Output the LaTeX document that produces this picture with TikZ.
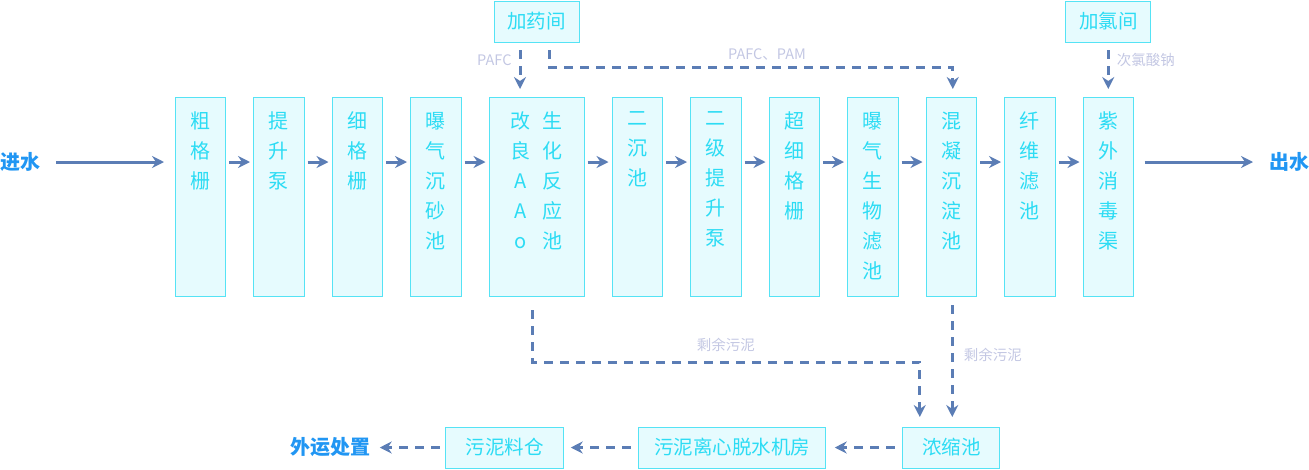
\documentclass[tikz,border=0pt]{standalone}
\usepackage{fontspec}
\newfontfamily\cjk{Noto Sans CJK SC}
\usepackage{xcolor}
\definecolor{wtLine}{HTML}{55E3F5}
\definecolor{wtFill}{HTML}{E6FBFE}
\definecolor{wtText}{HTML}{2CDCF4}
\definecolor{wtFlow}{HTML}{5B7DB5}
\definecolor{wtNote}{HTML}{C3C7E3}
\definecolor{wtEnd}{HTML}{2196F3}
\usepackage{tikz}
\usetikzlibrary{arrows.meta, positioning, calc}
\newcommand\vcol[2][40pt]{\parbox[c][199pt][t]{#1}{\centering\vspace*{15pt}#2}}

\begin{document}
\begin{tikzpicture}[x=1pt, y=-1pt,
        node distance=28pt,
        stage/.style={rectangle, draw=wtLine, fill=wtFill, line width=1pt, inner sep=0pt, outer sep=0pt, minimum width=50.5pt, minimum height=199pt, font=\cjk\fontsize{20}{30}\selectfont, text=wtText},
        room/.style={rectangle, draw=wtLine, fill=wtFill, line width=1pt, inner sep=0pt, outer sep=0pt, minimum height=41pt, font=\cjk\fontsize{19.5}{22}\selectfont, text=wtText},
        note/.style={font=\cjk\fontsize{14.5}{16}\selectfont, text=wtNote, inner sep=0pt},
        endpt/.style={font=\cjk\bfseries\fontsize{20}{22}\selectfont, text=wtEnd, inner sep=0pt, outer sep=0pt},
        arr/.style={-{Stealth[length=12pt, width=12pt, inset=4pt]}, line width=3pt, wtFlow},
        dasharr/.style={arr, dash pattern=on 9pt off 7pt},
    ]
        \useasboundingbox (0,0) rectangle (1309,469);
        \coordinate (flow) at (0,162);

        % Treatment line
        \node[stage, anchor=north west] at (175,97) (coarse) {\vcol{粗\\格\\栅}};
        \node[stage, right=of coarse] (lift)  {\vcol{提\\升\\泵}};
        \node[stage, right=of lift]   (fine)  {\vcol{细\\格\\栅}};
        \node[stage, right=of fine]   (grit)  {\vcol{曝\\气\\沉\\砂\\池}};
        \node[stage, right=of grit, minimum width=95pt] (aao) {\vcol[60pt]{\parbox[t]{20pt}{\centering 改\\良\\A\\A\\o}\hspace{12pt}\parbox[t]{20pt}{\centering 生\\化\\反\\应\\池}}};
        \node[stage, right=of aao]    (clar)  {\vcol{二\\沉\\池}};
        \node[stage, right=of clar]   (lift2) {\vcol{二\\级\\提\\升\\泵}};
        \node[stage, right=of lift2]  (ufine) {\vcol{超\\细\\格\\栅}};
        \node[stage, right=of ufine]  (baf)   {\vcol{曝\\气\\生\\物\\滤\\池}};
        \node[stage, right=of baf]    (mix)   {\vcol{混\\凝\\沉\\淀\\池}};
        \node[stage, right=of mix]    (fiber) {\vcol{纤\\维\\滤\\池}};
        \node[stage, right=of fiber]  (uv)    {\vcol{紫\\外\\消\\毒\\渠}};

        % Inlet and outlet
        \node[endpt] at (20,162)   (inflow)  {进水};
        \node[endpt] at (1289,162) (outflow) {出水};

        % Dosing rooms
        \node[room, minimum width=85pt, above=55pt of aao] (dose)  {加药间};
        \node[room, minimum width=85pt, above=55pt of uv]  (chlor) {加氯间};

        % Sludge line
        \node[room, minimum width=97pt, below=131pt of mix]    (thick)   {浓缩池};
        \node[room, minimum width=187pt, left=77pt of thick]   (dewater) {污泥离心脱水机房};
        \node[room, minimum width=118pt, left=75pt of dewater] (silo)    {污泥料仓};
        \node[endpt, left=75pt of silo] (disposal) {外运处置};

        % Arrows: main flow
        \draw[arr, shorten <=16pt, shorten >=11pt] (inflow) -- (coarse.west |- flow);
        \foreach \a/\b in {coarse/lift, lift/fine, fine/grit, grit/aao, aao/clar, clar/lift2, lift2/ufine, ufine/baf, baf/mix, mix/fiber, fiber/uv}
            \draw[arr, shorten <=3.5pt, shorten >=3.5pt] (\a.east |- flow) -- (\b.west |- flow);
        \draw[arr, shorten <=11pt, shorten >=16pt] (uv.east |- flow) -- (outflow);

        % Arrows: dosing
        \draw[dasharr, shorten <=8pt, shorten >=8pt] ([xshift=-16.5pt]dose.south) -- ([xshift=-16.5pt]aao.north)
            node[note, pos=0.33, left=7pt] (pafcnote) {PAFC};
        \draw[dasharr, shorten <=8pt, shorten >=8pt] ([xshift=12.5pt]dose.south) -- ++(0,25) -| ([xshift=1.5pt]mix.north)
            node[note, pos=0.27, above=5pt] (pamnote) {PAFC、PAM};
        \draw[dasharr, shorten <=8pt, shorten >=8pt] (chlor.south) -- (chlor.south |- uv.north)
            node[note, pos=0.33, right=7pt] (naclonote) {次氯酸钠};

        % Arrows: sludge
        \draw[dasharr, shorten <=14pt, shorten >=10pt] ([xshift=-4.5pt]aao.south) -- ++(0,66) -| ([xshift=-31.5pt]thick.north)
            node[note, pos=0.25, above=9pt] (sludgenote1) {剩余污泥};
        \draw[dasharr, shorten <=9pt, shorten >=10pt] ([xshift=1pt]mix.south) -- ([xshift=1pt]thick.north)
            node[note, pos=0.45, right=10pt] (sludgenote2) {剩余污泥};
        \draw[dasharr, shorten <=8pt, shorten >=9pt] (thick) -- (dewater);
        \draw[dasharr, shorten <=8pt, shorten >=7pt] (dewater) -- (silo);
        \draw[dasharr, shorten <=6pt, shorten >=9pt] (silo) -- (disposal);

    \end{tikzpicture}
\end{document}
